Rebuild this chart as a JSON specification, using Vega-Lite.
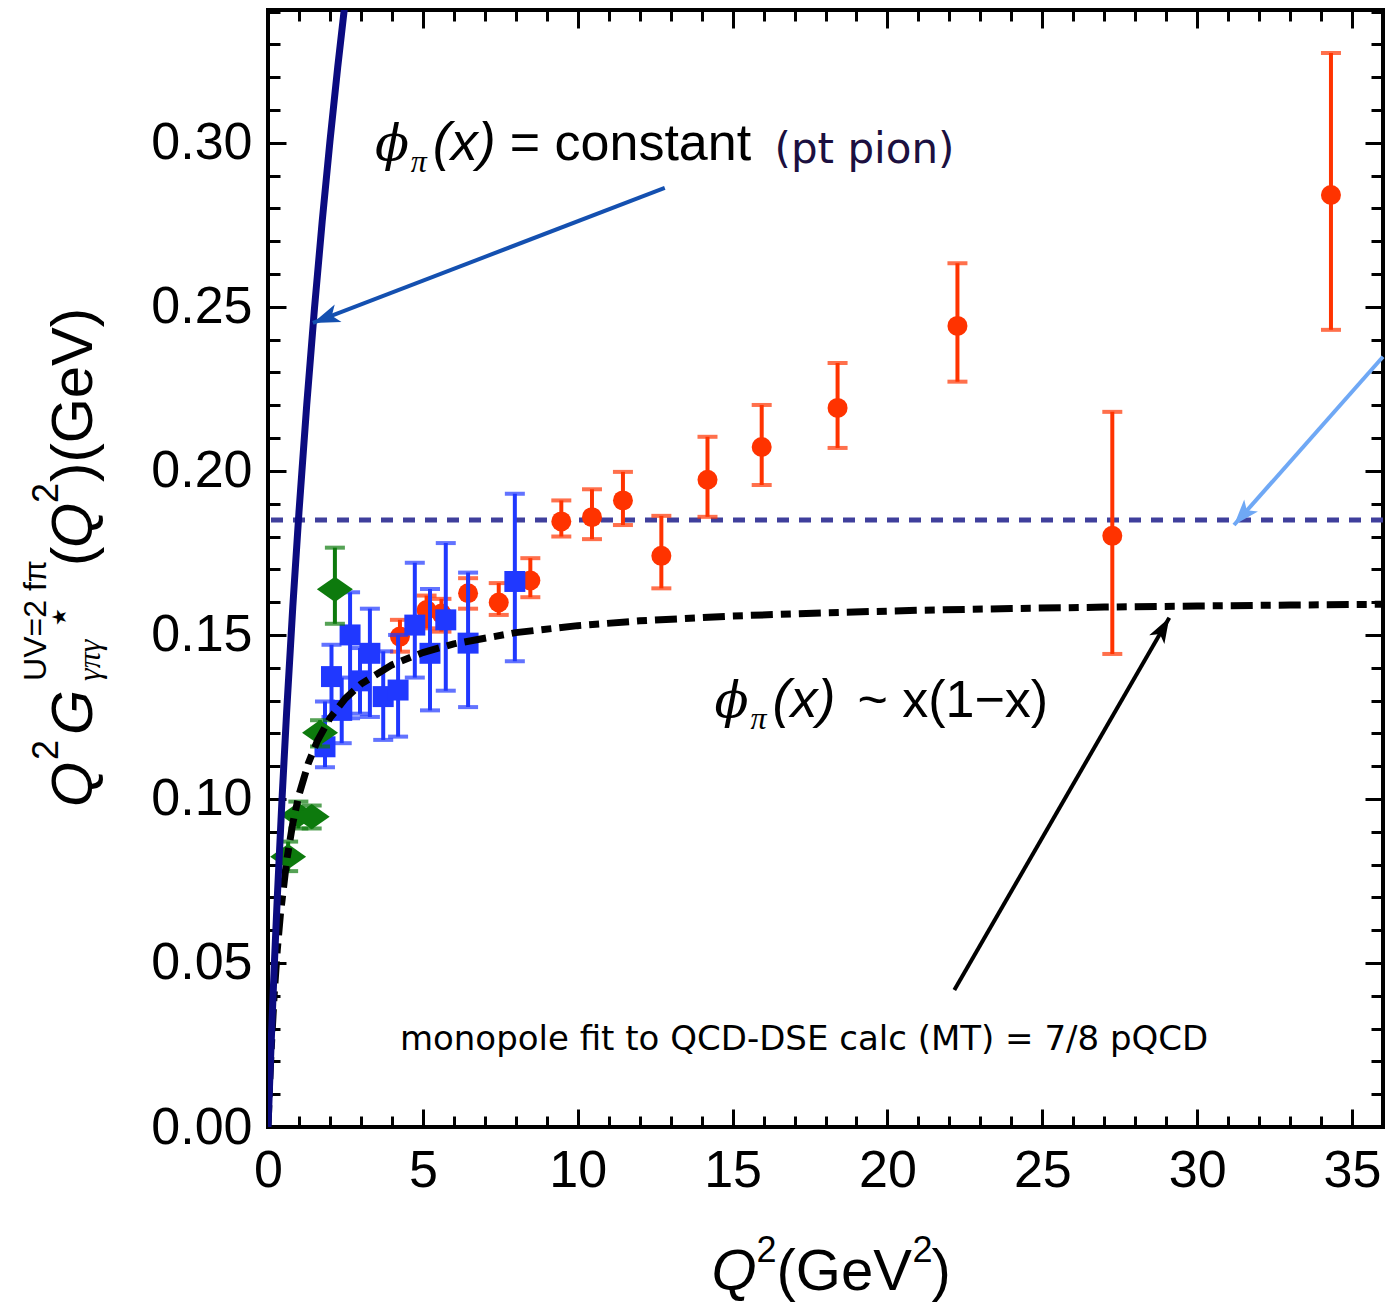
{
  "$schema": "https://vega.github.io/schema/vega-lite/v6.json",
  "width": 1115,
  "height": 1117,
  "autosize": {"type": "none"},
  "padding": {"left": 268, "top": 10, "right": 2, "bottom": 183},
  "background": "white",
  "config": {
    "view": {"stroke": "#000000", "strokeWidth": 4},
    "axis": {"grid": false, "domain": false}
  },
  "datasets": {
    "points": [
      {"series": "r", "q2": 4.26, "v": 0.1495, "lo": 0.1449, "hi": 0.1546},
      {"series": "r", "q2": 5.12, "v": 0.1576, "lo": 0.152, "hi": 0.162},
      {"series": "r", "q2": 5.6, "v": 0.1565, "lo": 0.151, "hi": 0.161},
      {"series": "r", "q2": 6.46, "v": 0.1627, "lo": 0.158, "hi": 0.1673},
      {"series": "r", "q2": 7.45, "v": 0.1599, "lo": 0.1561, "hi": 0.1658},
      {"series": "r", "q2": 8.47, "v": 0.1666, "lo": 0.1615, "hi": 0.1734},
      {"series": "r", "q2": 9.47, "v": 0.1846, "lo": 0.18, "hi": 0.191},
      {"series": "r", "q2": 10.46, "v": 0.1859, "lo": 0.1792, "hi": 0.1944},
      {"series": "r", "q2": 11.46, "v": 0.191, "lo": 0.1835, "hi": 0.1997},
      {"series": "r", "q2": 12.7, "v": 0.1741, "lo": 0.1642, "hi": 0.1863},
      {"series": "r", "q2": 14.19, "v": 0.1973, "lo": 0.186, "hi": 0.2104},
      {"series": "r", "q2": 15.94, "v": 0.2073, "lo": 0.1957, "hi": 0.2201},
      {"series": "r", "q2": 18.39, "v": 0.2192, "lo": 0.207, "hi": 0.2329},
      {"series": "r", "q2": 22.26, "v": 0.2442, "lo": 0.2272, "hi": 0.2633},
      {"series": "r", "q2": 27.26, "v": 0.1802, "lo": 0.1442, "hi": 0.218},
      {"series": "r", "q2": 34.32, "v": 0.2841, "lo": 0.243, "hi": 0.3274},
      {"series": "b", "q2": 1.84, "v": 0.1159, "lo": 0.1097, "hi": 0.1297},
      {"series": "b", "q2": 2.05, "v": 0.1373, "lo": 0.125, "hi": 0.147},
      {"series": "b", "q2": 2.38, "v": 0.127, "lo": 0.117, "hi": 0.137},
      {"series": "b", "q2": 2.65, "v": 0.15, "lo": 0.1246, "hi": 0.163},
      {"series": "b", "q2": 2.97, "v": 0.136, "lo": 0.126, "hi": 0.146},
      {"series": "b", "q2": 3.29, "v": 0.1444, "lo": 0.125, "hi": 0.158},
      {"series": "b", "q2": 3.72, "v": 0.1312, "lo": 0.118, "hi": 0.145},
      {"series": "b", "q2": 4.2, "v": 0.1332, "lo": 0.119, "hi": 0.15},
      {"series": "b", "q2": 4.74, "v": 0.153, "lo": 0.137, "hi": 0.172},
      {"series": "b", "q2": 5.23, "v": 0.1444, "lo": 0.127, "hi": 0.164},
      {"series": "b", "q2": 5.74, "v": 0.1546, "lo": 0.133, "hi": 0.178},
      {"series": "b", "q2": 6.46, "v": 0.1475, "lo": 0.128, "hi": 0.169},
      {"series": "b", "q2": 7.97, "v": 0.1663, "lo": 0.142, "hi": 0.193},
      {"series": "g", "q2": 0.65, "v": 0.0824, "lo": 0.078, "hi": 0.087},
      {"series": "g", "q2": 0.98, "v": 0.0951, "lo": 0.091, "hi": 0.0992},
      {"series": "g", "q2": 1.41, "v": 0.0946, "lo": 0.091, "hi": 0.098},
      {"series": "g", "q2": 1.68, "v": 0.1202, "lo": 0.116, "hi": 0.124},
      {"series": "g", "q2": 2.16, "v": 0.1639, "lo": 0.1534, "hi": 0.1766}
    ],
    "monopole": [
      {"q2": 0, "v": 0}, {"q2": 0.05, "v": 0.01246}, {"q2": 0.1, "v": 0.02314},
      {"q2": 0.2, "v": 0.0405}, {"q2": 0.3, "v": 0.054}, {"q2": 0.4, "v": 0.0648},
      {"q2": 0.6, "v": 0.081}, {"q2": 0.8, "v": 0.09257}, {"q2": 1.0, "v": 0.10125},
      {"q2": 1.3, "v": 0.11084}, {"q2": 1.6, "v": 0.11782}, {"q2": 2.0, "v": 0.12462},
      {"q2": 2.5, "v": 0.13065}, {"q2": 3, "v": 0.135}, {"q2": 4, "v": 0.14087},
      {"q2": 5, "v": 0.14464}, {"q2": 6, "v": 0.14727}, {"q2": 8, "v": 0.1507},
      {"q2": 10, "v": 0.15283}, {"q2": 12, "v": 0.15429}, {"q2": 15, "v": 0.15577},
      {"q2": 18, "v": 0.15677}, {"q2": 21, "v": 0.1575}, {"q2": 24, "v": 0.15805},
      {"q2": 27, "v": 0.15848}, {"q2": 30, "v": 0.15882}, {"q2": 33, "v": 0.15911},
      {"q2": 36, "v": 0.15934}
    ],
    "ptpion": [
      {"q2": 0, "v": 0}, {"q2": 0.1, "v": 0.0252}, {"q2": 0.2, "v": 0.0485},
      {"q2": 0.3, "v": 0.0699}, {"q2": 0.45, "v": 0.0995}, {"q2": 0.6, "v": 0.1262},
      {"q2": 0.8, "v": 0.1585}, {"q2": 1.0, "v": 0.1875}, {"q2": 1.25, "v": 0.2201},
      {"q2": 1.5, "v": 0.2495}, {"q2": 1.75, "v": 0.2761}, {"q2": 2.0, "v": 0.3005},
      {"q2": 2.25, "v": 0.323}, {"q2": 2.5, "v": 0.3438}, {"q2": 2.6, "v": 0.3518}
    ],
    "arrows": [
      {"id": "a1", "x": 12.81, "y": 0.2863, "x2": 1.45, "y2": 0.2451},
      {"id": "a2", "x": 36.0, "y": 0.2348, "x2": 31.19, "y2": 0.1835},
      {"id": "a3", "x": 22.16, "y": 0.0418, "x2": 29.1, "y2": 0.1552}
    ],
    "labels": [
      {"kind": "phi", "x": 3.452, "y": 0.29482, "text": "ϕ"},
      {"kind": "pi", "x": 4.612, "y": 0.29116, "text": "π"},
      {"kind": "sansit", "x": 5.323, "y": 0.29482, "text": "(x)"},
      {"kind": "sans", "x": 7.806, "y": 0.29482, "text": "= constant"},
      {"kind": "ptpion", "x": 16.355, "y": 0.2939, "text": "(pt pion)"},
      {"kind": "phi", "x": 14.419, "y": 0.125, "text": "ϕ"},
      {"kind": "pi", "x": 15.58, "y": 0.12134, "text": "π"},
      {"kind": "sansit", "x": 16.29, "y": 0.125, "text": "(x)"},
      {"kind": "sans", "x": 19.03, "y": 0.125, "text": "~ x(1−x)"},
      {"kind": "mono", "x": 4.258, "y": 0.02348, "text": "monopole fit to QCD-DSE calc (MT) = 7/8 pQCD"},
      {"kind": "xit", "x": 14.323, "y": -0.0497, "text": "Q"},
      {"kind": "xsup", "x": 15.774, "y": -0.04116, "text": "2"},
      {"kind": "xmain", "x": 16.419, "y": -0.0497, "text": "(GeV"},
      {"kind": "xsup", "x": 20.806, "y": -0.04116, "text": "2"},
      {"kind": "xmain", "x": 21.419, "y": -0.0497, "text": ")"},
      {"kind": "yit", "x": -5.677, "y": 0.09756, "text": "Q"},
      {"kind": "ysup", "x": -6.774, "y": 0.11189, "text": "2"},
      {"kind": "yit", "x": -5.677, "y": 0.11951, "text": "G"},
      {"kind": "ysup2", "x": -7.161, "y": 0.13598, "text": "UV=2 fπ"},
      {"kind": "ysub", "x": -5.419, "y": 0.13598, "text": "γπγ"},
      {"kind": "ystar", "x": -6.516, "y": 0.15274, "text": "★"},
      {"kind": "ymain", "x": -5.677, "y": 0.17104, "text": "("},
      {"kind": "yit", "x": -5.677, "y": 0.17652, "text": "Q"},
      {"kind": "ysup", "x": -6.774, "y": 0.19024, "text": "2"},
      {"kind": "ymain", "x": -5.677, "y": 0.19665, "text": ")(GeV)"}
    ]
  },
  "resolve": {"axis": {"x": "independent", "y": "independent"}},
  "layer": [
    {
      "data": {"values": [{"level": 0.185}]},
      "mark": {"type": "rule", "color": "#3f3f9c", "strokeWidth": 5, "strokeDash": [12, 10]},
      "encoding": {
        "y": {"field": "level", "type": "quantitative", "scale": {"domain": [0, 0.3405], "nice": false, "zero": false}, "axis": null}
      }
    },
    {
      "data": {"name": "points"},
      "transform": [{"filter": "datum.series === 'r'"}],
      "mark": {"type": "errorbar", "color": "#ff3300", "thickness": 4, "ticks": {"size": 20, "thickness": 4, "color": "#ff3300"}},
      "encoding": {
        "x": {"field": "q2", "type": "quantitative", "scale": {"domain": [0, 36], "nice": false, "zero": false}, "axis": null},
        "y": {"field": "lo", "type": "quantitative", "scale": {"domain": [0, 0.3405], "nice": false, "zero": false}, "axis": null},
        "y2": {"field": "hi"}
      }
    },
    {
      "data": {"name": "points"},
      "transform": [{"filter": "datum.series === 'r'"}],
      "mark": {"type": "point", "shape": "circle", "filled": true, "size": 400, "color": "#ff3300", "opacity": 1},
      "encoding": {
        "x": {"field": "q2", "type": "quantitative", "scale": {"domain": [0, 36], "nice": false, "zero": false}, "axis": null},
        "y": {"field": "v", "type": "quantitative", "scale": {"domain": [0, 0.3405], "nice": false, "zero": false}, "axis": null}
      }
    },
    {
      "data": {"name": "points"},
      "transform": [{"filter": "datum.series === 'b'"}],
      "mark": {"type": "errorbar", "color": "#2038ff", "thickness": 4, "ticks": {"size": 20, "thickness": 4, "color": "#2038ff"}},
      "encoding": {
        "x": {"field": "q2", "type": "quantitative", "scale": {"domain": [0, 36], "nice": false, "zero": false}, "axis": null},
        "y": {"field": "lo", "type": "quantitative", "scale": {"domain": [0, 0.3405], "nice": false, "zero": false}, "axis": null},
        "y2": {"field": "hi"}
      }
    },
    {
      "data": {"name": "points"},
      "transform": [{"filter": "datum.series === 'b'"}],
      "mark": {"type": "point", "shape": "square", "filled": true, "size": 440, "color": "#2038ff", "opacity": 1},
      "encoding": {
        "x": {"field": "q2", "type": "quantitative", "scale": {"domain": [0, 36], "nice": false, "zero": false}, "axis": null},
        "y": {"field": "v", "type": "quantitative", "scale": {"domain": [0, 0.3405], "nice": false, "zero": false}, "axis": null}
      }
    },
    {
      "data": {"name": "points"},
      "transform": [{"filter": "datum.series === 'g'"}],
      "mark": {"type": "errorbar", "color": "#0d7a0d", "thickness": 4, "ticks": {"size": 20, "thickness": 4, "color": "#0d7a0d"}},
      "encoding": {
        "x": {"field": "q2", "type": "quantitative", "scale": {"domain": [0, 36], "nice": false, "zero": false}, "axis": null},
        "y": {"field": "lo", "type": "quantitative", "scale": {"domain": [0, 0.3405], "nice": false, "zero": false}, "axis": null},
        "y2": {"field": "hi"}
      }
    },
    {
      "data": {"name": "points"},
      "transform": [{"filter": "datum.series === 'g'"}],
      "mark": {"type": "point", "shape": "M-1,0L0,-0.7L1,0L0,0.7Z", "filled": true, "size": 1296, "color": "#0d7a0d", "opacity": 1},
      "encoding": {
        "x": {"field": "q2", "type": "quantitative", "scale": {"domain": [0, 36], "nice": false, "zero": false}, "axis": null},
        "y": {"field": "v", "type": "quantitative", "scale": {"domain": [0, 0.3405], "nice": false, "zero": false}, "axis": null}
      }
    },
    {
      "data": {"name": "monopole"},
      "mark": {"type": "line", "color": "#000000", "strokeWidth": 7, "strokeDash": [22, 8, 10, 8], "clip": true},
      "encoding": {
        "x": {"field": "q2", "type": "quantitative", "scale": {"domain": [0, 36], "nice": false, "zero": false},
          "axis": {"orient": "top", "values": [0,1,2,3,4,5,6,7,8,9,10,11,12,13,14,15,16,17,18,19,20,21,22,23,24,25,26,27,28,29,30,31,32,33,34,35,36], "labels": false, "title": null, "tickColor": "#000000", "tickWidth": 3,
            "tickSize": {"condition": {"test": "datum.value % 5 === 0", "value": -18}, "value": -11}}},
        "y": {"field": "v", "type": "quantitative", "scale": {"domain": [0, 0.3405], "nice": false, "zero": false},
          "axis": {"orient": "right", "values": [0,0.01,0.02,0.03,0.04,0.05,0.06,0.07,0.08,0.09,0.1,0.11,0.12,0.13,0.14,0.15,0.16,0.17,0.18,0.19,0.2,0.21,0.22,0.23,0.24,0.25,0.26,0.27,0.28,0.29,0.3,0.31,0.32,0.33,0.34], "labels": false, "title": null, "tickColor": "#000000", "tickWidth": 3,
            "tickSize": {"condition": {"test": "round(datum.value*100) % 5 === 0", "value": -18}, "value": -12}}}
      }
    },
    {
      "data": {"name": "ptpion"},
      "mark": {"type": "line", "color": "#0b0b80", "strokeWidth": 7, "clip": true},
      "encoding": {
        "x": {"field": "q2", "type": "quantitative", "scale": {"domain": [0, 36], "nice": false, "zero": false},
          "axis": {"orient": "bottom", "values": [0,1,2,3,4,5,6,7,8,9,10,11,12,13,14,15,16,17,18,19,20,21,22,23,24,25,26,27,28,29,30,31,32,33,34,35,36], "title": null, "tickColor": "#000000", "tickWidth": 3,
            "tickSize": {"condition": {"test": "datum.value % 5 === 0", "value": -18}, "value": -11},
            "labelExpr": "datum.value % 5 === 0 ? format(datum.value, 'd') : ''",
            "labelFont": "Liberation Sans", "labelFontSize": 52, "labelColor": "#000000", "labelPadding": 36, "labelFlush": false, "labelOverlap": false, "labelBound": false}},
        "y": {"field": "v", "type": "quantitative", "scale": {"domain": [0, 0.3405], "nice": false, "zero": false},
          "axis": {"orient": "left", "values": [0,0.01,0.02,0.03,0.04,0.05,0.06,0.07,0.08,0.09,0.1,0.11,0.12,0.13,0.14,0.15,0.16,0.17,0.18,0.19,0.2,0.21,0.22,0.23,0.24,0.25,0.26,0.27,0.28,0.29,0.3,0.31,0.32,0.33,0.34], "title": null, "tickColor": "#000000", "tickWidth": 3,
            "tickSize": {"condition": {"test": "round(datum.value*100) % 5 === 0", "value": -18}, "value": -12},
            "labelExpr": "round(datum.value*100) % 5 === 0 ? format(datum.value, '.2f') : ''",
            "labelFont": "Liberation Sans", "labelFontSize": 52, "labelColor": "#000000", "labelPadding": 34, "labelFlush": false, "labelOverlap": false, "labelBound": false}}
      }
    },
    {
      "data": {"name": "arrows"},
      "transform": [{"filter": "datum.id === 'a1'"}],
      "mark": {"type": "rule", "color": "#1450b0", "strokeWidth": 4},
      "encoding": {
        "x": {"field": "x", "type": "quantitative", "scale": {"domain": [0, 36], "nice": false, "zero": false}, "axis": null},
        "y": {"field": "y", "type": "quantitative", "scale": {"domain": [0, 0.3405], "nice": false, "zero": false}, "axis": null},
        "x2": {"field": "x2"}, "y2": {"field": "y2"}
      }
    },
    {
      "data": {"name": "arrows"},
      "transform": [{"filter": "datum.id === 'a1'"}],
      "mark": {"type": "point", "shape": "M0,0L0.7,2L0,1.5L-0.7,2Z", "filled": true, "size": 729, "angle": 249, "color": "#1450b0", "opacity": 1},
      "encoding": {
        "x": {"field": "x2", "type": "quantitative", "scale": {"domain": [0, 36], "nice": false, "zero": false}, "axis": null},
        "y": {"field": "y2", "type": "quantitative", "scale": {"domain": [0, 0.3405], "nice": false, "zero": false}, "axis": null}
      }
    },
    {
      "data": {"name": "arrows"},
      "transform": [{"filter": "datum.id === 'a2'"}],
      "mark": {"type": "rule", "color": "#6fa8f5", "strokeWidth": 4},
      "encoding": {
        "x": {"field": "x", "type": "quantitative", "scale": {"domain": [0, 36], "nice": false, "zero": false}, "axis": null},
        "y": {"field": "y", "type": "quantitative", "scale": {"domain": [0, 0.3405], "nice": false, "zero": false}, "axis": null},
        "x2": {"field": "x2"}, "y2": {"field": "y2"}
      }
    },
    {
      "data": {"name": "arrows"},
      "transform": [{"filter": "datum.id === 'a2'"}],
      "mark": {"type": "point", "shape": "M0,0L0.7,2L0,1.5L-0.7,2Z", "filled": true, "size": 676, "angle": 221, "color": "#6fa8f5", "opacity": 1},
      "encoding": {
        "x": {"field": "x2", "type": "quantitative", "scale": {"domain": [0, 36], "nice": false, "zero": false}, "axis": null},
        "y": {"field": "y2", "type": "quantitative", "scale": {"domain": [0, 0.3405], "nice": false, "zero": false}, "axis": null}
      }
    },
    {
      "data": {"name": "arrows"},
      "transform": [{"filter": "datum.id === 'a3'"}],
      "mark": {"type": "rule", "color": "#000000", "strokeWidth": 4},
      "encoding": {
        "x": {"field": "x", "type": "quantitative", "scale": {"domain": [0, 36], "nice": false, "zero": false}, "axis": null},
        "y": {"field": "y", "type": "quantitative", "scale": {"domain": [0, 0.3405], "nice": false, "zero": false}, "axis": null},
        "x2": {"field": "x2"}, "y2": {"field": "y2"}
      }
    },
    {
      "data": {"name": "arrows"},
      "transform": [{"filter": "datum.id === 'a3'"}],
      "mark": {"type": "point", "shape": "M0,0L0.7,2L0,1.5L-0.7,2Z", "filled": true, "size": 625, "angle": 30, "color": "#000000", "opacity": 1},
      "encoding": {
        "x": {"field": "x2", "type": "quantitative", "scale": {"domain": [0, 36], "nice": false, "zero": false}, "axis": null},
        "y": {"field": "y2", "type": "quantitative", "scale": {"domain": [0, 0.3405], "nice": false, "zero": false}, "axis": null}
      }
    },
    {
      "data": {"name": "labels"},
      "transform": [{"filter": "datum.kind === 'phi'"}],
      "mark": {"type": "text", "font": "DejaVu Serif", "fontStyle": "italic", "fontSize": 50, "align": "left", "baseline": "alphabetic", "color": "#000000"},
      "encoding": {
        "x": {"field": "x", "type": "quantitative", "scale": {"domain": [0, 36], "nice": false, "zero": false}, "axis": null},
        "y": {"field": "y", "type": "quantitative", "scale": {"domain": [0, 0.3405], "nice": false, "zero": false}, "axis": null},
        "text": {"field": "text"}
      }
    },
    {
      "data": {"name": "labels"},
      "transform": [{"filter": "datum.kind === 'pi'"}],
      "mark": {"type": "text", "font": "Liberation Serif", "fontStyle": "italic", "fontSize": 32, "align": "left", "baseline": "alphabetic", "color": "#000000"},
      "encoding": {
        "x": {"field": "x", "type": "quantitative", "scale": {"domain": [0, 36], "nice": false, "zero": false}, "axis": null},
        "y": {"field": "y", "type": "quantitative", "scale": {"domain": [0, 0.3405], "nice": false, "zero": false}, "axis": null},
        "text": {"field": "text"}
      }
    },
    {
      "data": {"name": "labels"},
      "transform": [{"filter": "datum.kind === 'sansit'"}],
      "mark": {"type": "text", "font": "Liberation Sans", "fontStyle": "italic", "fontSize": 54, "align": "left", "baseline": "alphabetic", "color": "#000000"},
      "encoding": {
        "x": {"field": "x", "type": "quantitative", "scale": {"domain": [0, 36], "nice": false, "zero": false}, "axis": null},
        "y": {"field": "y", "type": "quantitative", "scale": {"domain": [0, 0.3405], "nice": false, "zero": false}, "axis": null},
        "text": {"field": "text"}
      }
    },
    {
      "data": {"name": "labels"},
      "transform": [{"filter": "datum.kind === 'sans'"}],
      "mark": {"type": "text", "font": "Liberation Sans", "fontSize": 52, "align": "left", "baseline": "alphabetic", "color": "#000000"},
      "encoding": {
        "x": {"field": "x", "type": "quantitative", "scale": {"domain": [0, 36], "nice": false, "zero": false}, "axis": null},
        "y": {"field": "y", "type": "quantitative", "scale": {"domain": [0, 0.3405], "nice": false, "zero": false}, "axis": null},
        "text": {"field": "text"}
      }
    },
    {
      "data": {"name": "labels"},
      "transform": [{"filter": "datum.kind === 'ptpion'"}],
      "mark": {"type": "text", "font": "DejaVu Sans", "fontSize": 42, "align": "left", "baseline": "alphabetic", "color": "#1c1040"},
      "encoding": {
        "x": {"field": "x", "type": "quantitative", "scale": {"domain": [0, 36], "nice": false, "zero": false}, "axis": null},
        "y": {"field": "y", "type": "quantitative", "scale": {"domain": [0, 0.3405], "nice": false, "zero": false}, "axis": null},
        "text": {"field": "text"}
      }
    },
    {
      "data": {"name": "labels"},
      "transform": [{"filter": "datum.kind === 'mono'"}],
      "mark": {"type": "text", "font": "DejaVu Sans", "fontSize": 34, "align": "left", "baseline": "alphabetic", "color": "#000000"},
      "encoding": {
        "x": {"field": "x", "type": "quantitative", "scale": {"domain": [0, 36], "nice": false, "zero": false}, "axis": null},
        "y": {"field": "y", "type": "quantitative", "scale": {"domain": [0, 0.3405], "nice": false, "zero": false}, "axis": null},
        "text": {"field": "text"}
      }
    },
    {
      "data": {"name": "labels"},
      "transform": [{"filter": "datum.kind === 'xit'"}],
      "mark": {"type": "text", "font": "Liberation Sans", "fontStyle": "italic", "fontSize": 58, "align": "left", "baseline": "alphabetic", "color": "#000000"},
      "encoding": {
        "x": {"field": "x", "type": "quantitative", "scale": {"domain": [0, 36], "nice": false, "zero": false}, "axis": null},
        "y": {"field": "y", "type": "quantitative", "scale": {"domain": [0, 0.3405], "nice": false, "zero": false}, "axis": null},
        "text": {"field": "text"}
      }
    },
    {
      "data": {"name": "labels"},
      "transform": [{"filter": "datum.kind === 'xmain'"}],
      "mark": {"type": "text", "font": "Liberation Sans", "fontSize": 58, "align": "left", "baseline": "alphabetic", "color": "#000000"},
      "encoding": {
        "x": {"field": "x", "type": "quantitative", "scale": {"domain": [0, 36], "nice": false, "zero": false}, "axis": null},
        "y": {"field": "y", "type": "quantitative", "scale": {"domain": [0, 0.3405], "nice": false, "zero": false}, "axis": null},
        "text": {"field": "text"}
      }
    },
    {
      "data": {"name": "labels"},
      "transform": [{"filter": "datum.kind === 'xsup'"}],
      "mark": {"type": "text", "font": "Liberation Sans", "fontSize": 36, "align": "left", "baseline": "alphabetic", "color": "#000000"},
      "encoding": {
        "x": {"field": "x", "type": "quantitative", "scale": {"domain": [0, 36], "nice": false, "zero": false}, "axis": null},
        "y": {"field": "y", "type": "quantitative", "scale": {"domain": [0, 0.3405], "nice": false, "zero": false}, "axis": null},
        "text": {"field": "text"}
      }
    },
    {
      "data": {"name": "labels"},
      "transform": [{"filter": "datum.kind === 'yit'"}],
      "mark": {"type": "text", "font": "Liberation Sans", "fontStyle": "italic", "fontSize": 58, "angle": 270, "align": "left", "baseline": "alphabetic", "color": "#000000"},
      "encoding": {
        "x": {"field": "x", "type": "quantitative", "scale": {"domain": [0, 36], "nice": false, "zero": false}, "axis": null},
        "y": {"field": "y", "type": "quantitative", "scale": {"domain": [0, 0.3405], "nice": false, "zero": false}, "axis": null},
        "text": {"field": "text"}
      }
    },
    {
      "data": {"name": "labels"},
      "transform": [{"filter": "datum.kind === 'ymain'"}],
      "mark": {"type": "text", "font": "Liberation Sans", "fontSize": 58, "angle": 270, "align": "left", "baseline": "alphabetic", "color": "#000000"},
      "encoding": {
        "x": {"field": "x", "type": "quantitative", "scale": {"domain": [0, 36], "nice": false, "zero": false}, "axis": null},
        "y": {"field": "y", "type": "quantitative", "scale": {"domain": [0, 0.3405], "nice": false, "zero": false}, "axis": null},
        "text": {"field": "text"}
      }
    },
    {
      "data": {"name": "labels"},
      "transform": [{"filter": "datum.kind === 'ysup'"}],
      "mark": {"type": "text", "font": "Liberation Sans", "fontSize": 36, "angle": 270, "align": "left", "baseline": "alphabetic", "color": "#000000"},
      "encoding": {
        "x": {"field": "x", "type": "quantitative", "scale": {"domain": [0, 36], "nice": false, "zero": false}, "axis": null},
        "y": {"field": "y", "type": "quantitative", "scale": {"domain": [0, 0.3405], "nice": false, "zero": false}, "axis": null},
        "text": {"field": "text"}
      }
    },
    {
      "data": {"name": "labels"},
      "transform": [{"filter": "datum.kind === 'ysup2'"}],
      "mark": {"type": "text", "font": "Liberation Sans", "fontSize": 32, "angle": 270, "align": "left", "baseline": "alphabetic", "color": "#000000"},
      "encoding": {
        "x": {"field": "x", "type": "quantitative", "scale": {"domain": [0, 36], "nice": false, "zero": false}, "axis": null},
        "y": {"field": "y", "type": "quantitative", "scale": {"domain": [0, 0.3405], "nice": false, "zero": false}, "axis": null},
        "text": {"field": "text"}
      }
    },
    {
      "data": {"name": "labels"},
      "transform": [{"filter": "datum.kind === 'ysub'"}],
      "mark": {"type": "text", "font": "Liberation Serif", "fontStyle": "italic", "fontSize": 32, "angle": 270, "align": "left", "baseline": "alphabetic", "color": "#000000"},
      "encoding": {
        "x": {"field": "x", "type": "quantitative", "scale": {"domain": [0, 36], "nice": false, "zero": false}, "axis": null},
        "y": {"field": "y", "type": "quantitative", "scale": {"domain": [0, 0.3405], "nice": false, "zero": false}, "axis": null},
        "text": {"field": "text"}
      }
    },
    {
      "data": {"name": "labels"},
      "transform": [{"filter": "datum.kind === 'ystar'"}],
      "mark": {"type": "text", "font": "DejaVu Sans", "fontSize": 20, "angle": 270, "align": "left", "baseline": "alphabetic", "color": "#000000"},
      "encoding": {
        "x": {"field": "x", "type": "quantitative", "scale": {"domain": [0, 36], "nice": false, "zero": false}, "axis": null},
        "y": {"field": "y", "type": "quantitative", "scale": {"domain": [0, 0.3405], "nice": false, "zero": false}, "axis": null},
        "text": {"field": "text"}
      }
    }
  ]
}
